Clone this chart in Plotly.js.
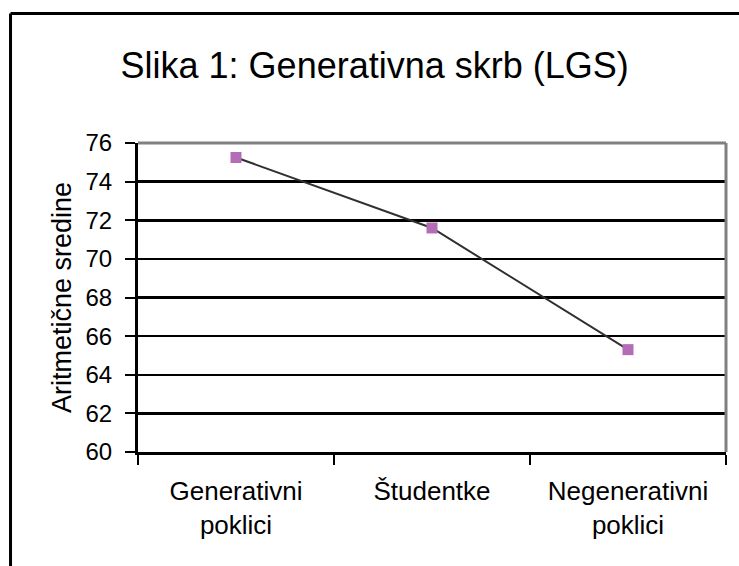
<!DOCTYPE html>
<html>
<head>
<meta charset="utf-8">
<script src="https://cdn.plot.ly/plotly-3.0.1.min.js"></script>
<style>
html,body{margin:0;padding:0;background:#fff;}
#chart{width:739px;height:566px;}
</style>
</head>
<body>
<div id="chart"></div>
<script>
const categories = ["Generativni<br>poklici", "Študentke", "Negenerativni<br>poklici"];
const values = [75.25, 71.6, 65.3];
const yTicks = [60, 62, 64, 66, 68, 70, 72, 74, 76];

const trace = {
  x: categories,
  y: values,
  type: 'scatter',
  mode: 'lines+markers',
  line: {color: '#303030', width: 2},
  marker: {symbol: 'square', size: 11, color: '#B46CB8'},
  hoverinfo: 'skip'
};

const layout = {
  width: 739, height: 566,
  margin: {l: 138, r: 13, t: 143, b: 114},
  paper_bgcolor: '#ffffff',
  plot_bgcolor: '#ffffff',
  showlegend: false,
  font: {family: 'Liberation Sans, Arial, sans-serif', color: '#000'},
  title: {
    text: 'Slika 1: Generativna skrb (LGS)',
    font: {family: 'Liberation Sans, Arial, sans-serif', size: 36, color: '#000'},
    xref: 'container', yref: 'container',
    x: 0.507, y: 0.885, xanchor: 'center', yanchor: 'middle'
  },
  xaxis: {
    type: 'category',
    range: [-0.5, 2.5],
    tickson: 'boundaries',
    ticks: 'outside', ticklen: 10, tickwidth: 2, tickcolor: '#000',
    showgrid: false, zeroline: false,
    showline: true, linecolor: '#000', linewidth: 3,
    tickfont: {size: 26, color: '#000'},
    ticklabelstandoff: 14,
    fixedrange: true
  },
  yaxis: {
    range: [60, 76],
    tickvals: yTicks,
    ticktext: yTicks.map(String),
    ticks: 'outside', ticklen: 10, tickwidth: 2, tickcolor: '#000',
    showgrid: true, gridcolor: '#000', gridwidth: 2.5,
    zeroline: false,
    showline: true, linecolor: '#000', linewidth: 3,
    tickfont: {size: 24, color: '#000'},
    ticklabelstandoff: 8,
    title: {text: 'Aritmetične sredine', font: {size: 27, color: '#000'}, standoff: 7},
    automargin: false,
    fixedrange: true
  },
  shapes: [
    {type: 'line', xref: 'paper', yref: 'paper', x0: 0, x1: 1, y0: 1, y1: 1, line: {color: '#808080', width: 3}},
    {type: 'line', xref: 'paper', yref: 'paper', x0: 1, x1: 1, y0: 0, y1: 1, line: {color: '#808080', width: 3}},
    {type: 'line', xref: 'paper', yref: 'paper', x0: -0.2168, x1: 1.03, y0: 1.419, y1: 1.419, line: {color: '#000', width: 3}},
    {type: 'line', xref: 'paper', yref: 'paper', x0: -0.2168, x1: -0.2168, y0: 1.419, y1: -0.38, line: {color: '#000', width: 3}}
  ]
};

Plotly.newPlot('chart', [trace], layout, {displayModeBar: false, staticPlot: true});
</script>
</body>
</html>
